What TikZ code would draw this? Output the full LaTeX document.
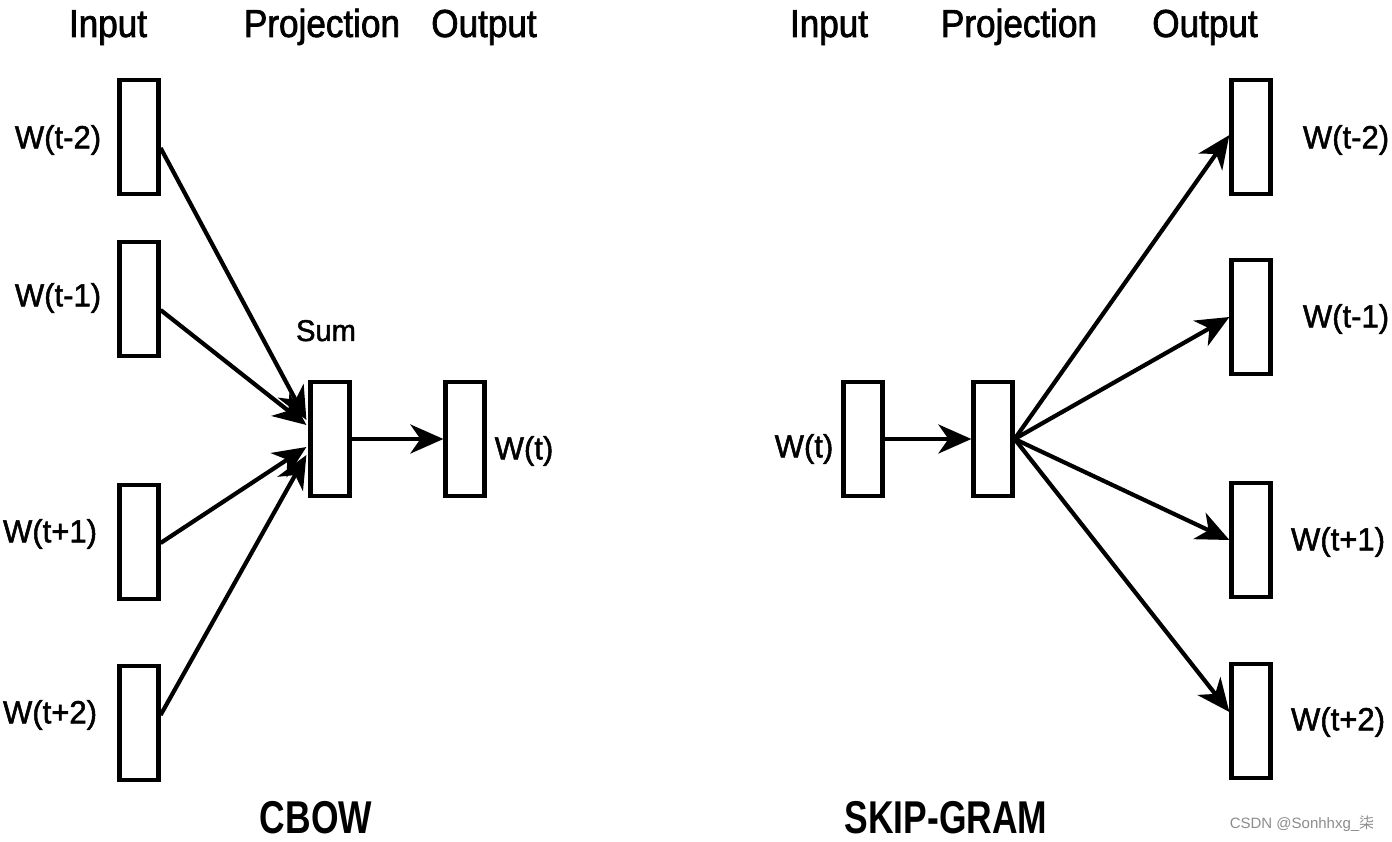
\documentclass[tikz,border=0pt]{standalone}
\usepackage{fontspec}
\setmainfont{Liberation Sans}
\newfontfamily\hdfont[FakeStretch=0.9,FakeBold=1.8]{Liberation Sans}
\newfontfamily\lbfont[FakeStretch=0.97,FakeBold=1.6]{Liberation Sans}
\newfontfamily\bdfont[FakeStretch=0.77]{Liberation Sans Bold}
\newfontfamily\cjkfont{Noto Sans CJK SC}
\usetikzlibrary{arrows.meta}
\tikzset{
  vec/.style={draw=black, line width=4.2pt, minimum width=39pt, minimum height=114pt, inner sep=0pt, fill=white},
  conn/.style={line width=4.2pt, -{Stealth[length=33pt,width=29pt,inset=10pt]}},
  hdr/.style={anchor=base, inner sep=0pt, font=\hdfont\fontsize{39}{39}\selectfont},
  lbl/.style={inner sep=0pt, font=\lbfont\fontsize{32}{32}\selectfont},
  ttl/.style={anchor=base, inner sep=0pt, font=\bdfont\fontsize{46}{46}\selectfont},
  sumlbl/.style={anchor=base, inner sep=0pt, font=\lbfont\fontsize{30}{30}\selectfont},
  wm/.style={anchor=base, inner sep=0pt, text=black!45, font=\fontsize{15}{15}\selectfont}
}
\begin{document}
\begin{tikzpicture}[x=1pt,y=-1pt]
\useasboundingbox (0,0) rectangle (1392,842);
% ---------- CBOW ----------
\node[hdr] (hin1) at (108,37) {Input};
\node[hdr] (hpr1) at (322,37) {Projection};
\node[hdr] (hou1) at (484,37) {Output};

\node[vec] (i1) at (139,137) {};
\node[vec] (i2) at (139,299) {};
\node[vec] (i3) at (139,542) {};
\node[vec] (i4) at (139,723) {};
\node[vec] (p1) at (330,439) {};
\node[vec] (o1) at (465,439) {};

\node[lbl] (li1) at (58,140) {W(t-2)};
\node[lbl] (li2) at (58,298) {W(t-1)};
\node[lbl] (li3) at (50,534) {W(t+1)};
\node[lbl] (li4) at (50,715) {W(t+2)};
\node[lbl] (lo1) at (524,451) {W(t)};
\node[sumlbl] (sum) at (326,341) {Sum};

\draw[conn] ([yshift=-11pt]i1.east) -- ([xshift=-2pt,yshift=19pt]p1.west);
\draw[conn] ([yshift=-11pt]i2.east) -- ([xshift=-2pt,yshift=14pt]p1.west);
\draw[conn] ([yshift=-1pt]i3.east) -- ([xshift=-2pt,yshift=-8pt]p1.west);
\draw[conn] ([yshift=8pt]i4.east) -- ([xshift=-2pt,yshift=-16pt]p1.west);
\draw[conn] (p1.east) -- (o1.west);

\node[ttl] (cbow) at (316,833) {CBOW};

% ---------- SKIP-GRAM ----------
\node[hdr] (hin2) at (829,37) {Input};
\node[hdr] (hpr2) at (1019,37) {Projection};
\node[hdr] (hou2) at (1205,37) {Output};

\node[vec] (i5) at (863,439) {};
\node[vec] (p2) at (993,439) {};
\node[vec] (o2) at (1251,137) {};
\node[vec] (o3) at (1251,317) {};
\node[vec] (o4) at (1251,540) {};
\node[vec] (o5) at (1251,721) {};

\node[lbl] (li5) at (804,449) {W(t)};
\node[lbl] (lo2) at (1346,140) {W(t-2)};
\node[lbl] (lo3) at (1346,319) {W(t-1)};
\node[lbl] (lo4) at (1338,542) {W(t+1)};
\node[lbl] (lo5) at (1338,722) {W(t+2)};

\draw[conn] (i5.east) -- (p2.west);
\draw[conn] (p2.east) -- ([yshift=2pt]o2.west);
\draw[conn] (p2.east) -- (o3.west);
\draw[conn] (p2.east) -- (o4.west);
\draw[conn] (p2.east) -- ([yshift=9pt]o5.west);

\node[ttl] (skip) at (946,833) {SKIP-GRAM};

\node[wm] (mark) at (1302,828) {CSDN @Sonhhxg\_{\cjkfont 柒}};
\end{tikzpicture}
\end{document}
